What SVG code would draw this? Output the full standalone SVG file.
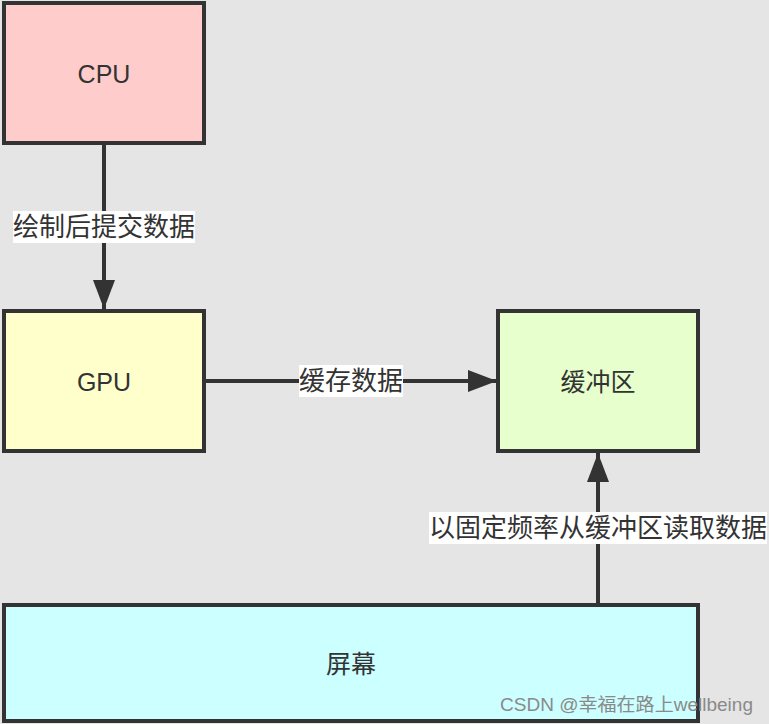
<svg xmlns="http://www.w3.org/2000/svg" width="769" height="724" viewBox="0 0 769 724">
<style>
.box{stroke:#333333;stroke-width:4}
.t{font-family:"Liberation Sans","Noto Sans CJK SC",sans-serif;font-size:25px;fill:#333333;text-anchor:middle;dominant-baseline:central}
.l{font-size:26px}
.lbl{fill:#ffffff}
.edge{stroke:#333333;stroke-width:4;fill:none}
.wm{font-family:"Liberation Sans","Noto Sans CJK SC",sans-serif;font-size:18px;fill:#8a8a8a}
</style>
<defs>
<marker id="ah" markerUnits="userSpaceOnUse" markerWidth="30" markerHeight="22" refX="29" refY="11" orient="auto" viewBox="0 0 30 22">
<path d="M0,0 L29,11 L0,22 Z" fill="#333333"/>
</marker>
</defs>
<rect x="0" y="0" width="769" height="724" fill="#e5e5e5"/>
<g id="connectors">
<line class="edge" x1="104" y1="143" x2="104" y2="309" marker-end="url(#ah)"/>
<rect class="lbl" x="13" y="211" width="182" height="32"/>
<text class="t l" x="104" y="227">绘制后提交数据</text>
<line class="edge" x1="204" y1="381" x2="497" y2="381" marker-end="url(#ah)"/>
<rect class="lbl" x="299" y="365" width="104" height="32"/>
<text class="t l" x="351" y="381">缓存数据</text>
<line class="edge" x1="598" y1="605" x2="598" y2="453" marker-end="url(#ah)"/>
<rect class="lbl" x="429" y="512" width="338" height="32"/>
<text class="t l" x="598" y="528">以固定频率从缓冲区读取数据</text>
</g>
<g id="cpu">
<rect class="box" x="4" y="3" width="200" height="140" fill="#ffcccc"/>
<text class="t" x="104" y="74">CPU</text>
</g>
<g id="gpu">
<rect class="box" x="4" y="311" width="200" height="140" fill="#ffffcc"/>
<text class="t" x="104" y="382">GPU</text>
</g>
<g id="buffer">
<rect class="box" x="498" y="311" width="200" height="140" fill="#e6ffcc"/>
<text class="t" x="598" y="382">缓冲区</text>
</g>
<g id="screen">
<rect class="box" x="4" y="605" width="694" height="116" fill="#ccffff"/>
<text class="t" x="351" y="664">屏幕</text>
</g>
<text class="wm" x="500" y="711" textLength="253" lengthAdjust="spacingAndGlyphs">CSDN @幸福在路上wellbeing</text>
</svg>
